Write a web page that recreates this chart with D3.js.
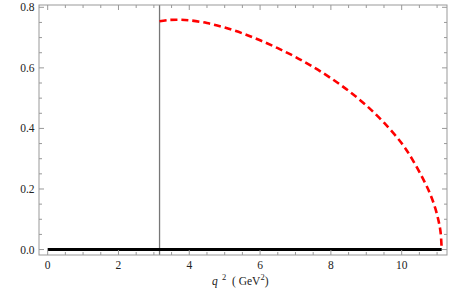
<html>
<head>
  <style>
    body { margin: 0; background: #fff; }
    svg text { font-family: "Liberation Serif", "Times New Roman", Times, serif; font-size: 11.5px; fill: #222; }
  </style>
  <script src="https://d3js.org/d3.v7.min.js"></script>
</head>
<body>
  <svg id="chart" width="450" height="296"></svg>
  <script>
    // dashed red curve
    const q2 = [3.16, 3.4, 3.7, 4.0, 4.5, 5.0, 5.5, 6.0, 6.5, 7.0, 7.5, 8.0, 8.5, 9.0, 9.5, 10.0, 10.3, 10.6, 10.8, 10.95, 11.05, 11.1, 11.13];
    const values = [0.754, 0.758, 0.759, 0.757, 0.748, 0.733, 0.714, 0.691, 0.665, 0.636, 0.603, 0.566, 0.524, 0.476, 0.419, 0.351, 0.298, 0.234, 0.185, 0.136, 0.090, 0.056, 0.0];
    // black baseline at zero
    const zeroLine = [[0, 0], [11.13, 0]];
    const threshold = 3.16;
    const xTicks = [0, 2, 4, 6, 8, 10];
    const yTicks = [0.0, 0.2, 0.4, 0.6, 0.8];

    const svg = d3.select("#chart");
    const mLeft = 39, mRight = 447, mTop = 5, mBottom = 255;

    const x = d3.scaleLinear().domain([-0.245, 11.28]).range([mLeft, mRight]);
    const y = d3.scaleLinear().domain([-0.018, 0.8076]).range([mBottom, mTop]);

    const plot = svg.append("g");

    // vertical threshold line
    plot.append("line")
      .attr("x1", x(threshold)).attr("x2", x(threshold))
      .attr("y1", mTop).attr("y2", mBottom)
      .attr("stroke", "#777").attr("stroke-width", 1.3);

    plot.append("path")
      .datum(zeroLine)
      .attr("d", d3.line().x(d => x(d[0])).y(d => y(d[1])))
      .attr("stroke", "#000").attr("stroke-width", 3).attr("fill", "none");

    const pts = q2.map((q, i) => [q, values[i]]);
    plot.append("path")
      .datum(pts)
      .attr("d", d3.line().x(d => x(d[0])).y(d => y(d[1])).curve(d3.curveCatmullRom.alpha(0.5)))
      .attr("stroke", "#f00").attr("stroke-width", 2.6).attr("fill", "none")
      .attr("stroke-dasharray", "7,4");

    // frame
    svg.append("rect")
      .attr("x", mLeft).attr("y", mTop)
      .attr("width", mRight - mLeft).attr("height", mBottom - mTop)
      .attr("fill", "none").attr("stroke", "#999").attr("stroke-width", 1);

    const xMinor = d3.range(0, 11.01, 0.5).filter(v => v % 2 !== 0);
    const yMinor = d3.range(0, 0.801, 0.05).filter(v => Math.abs(v * 5 - Math.round(v * 5)) > 1e-6);

    const ticks = svg.append("g").attr("stroke", "#999").attr("stroke-width", 1);
    xTicks.forEach(v => {
      ticks.append("line").attr("x1", x(v)).attr("x2", x(v)).attr("y1", mBottom).attr("y2", mBottom - 5);
      ticks.append("line").attr("x1", x(v)).attr("x2", x(v)).attr("y1", mTop).attr("y2", mTop + 5);
    });
    xMinor.forEach(v => {
      ticks.append("line").attr("x1", x(v)).attr("x2", x(v)).attr("y1", mBottom).attr("y2", mBottom - 3);
      ticks.append("line").attr("x1", x(v)).attr("x2", x(v)).attr("y1", mTop).attr("y2", mTop + 3);
    });
    yTicks.forEach(v => {
      ticks.append("line").attr("x1", mLeft).attr("x2", mLeft + 5).attr("y1", y(v)).attr("y2", y(v));
      ticks.append("line").attr("x1", mRight).attr("x2", mRight - 5).attr("y1", y(v)).attr("y2", y(v));
    });
    yMinor.forEach(v => {
      ticks.append("line").attr("x1", mLeft).attr("x2", mLeft + 3).attr("y1", y(v)).attr("y2", y(v));
      ticks.append("line").attr("x1", mRight).attr("x2", mRight - 3).attr("y1", y(v)).attr("y2", y(v));
    });

    svg.append("g").selectAll("text").data(xTicks).join("text")
      .attr("x", d => x(d)).attr("y", 269).attr("text-anchor", "middle")
      .text(d => d);

    svg.append("g").selectAll("text").data(yTicks).join("text")
      .attr("x", 34.5).attr("y", d => y(d) + 4).attr("text-anchor", "end")
      .text(d => d.toFixed(1));

    const lab = svg.append("text").attr("x", 212).attr("y", 285).attr("xml:space", "preserve");
    lab.append("tspan").attr("font-style", "italic").text("q");
    lab.append("tspan").attr("dy", -5).attr("font-size", "8.5px").text("  2");
    lab.append("tspan").attr("dy", 5).text("  ( GeV");
    lab.append("tspan").attr("dy", -5).attr("font-size", "8.5px").text("2");
    lab.append("tspan").attr("dy", 5).text(")");
  </script>
</body>
</html>
